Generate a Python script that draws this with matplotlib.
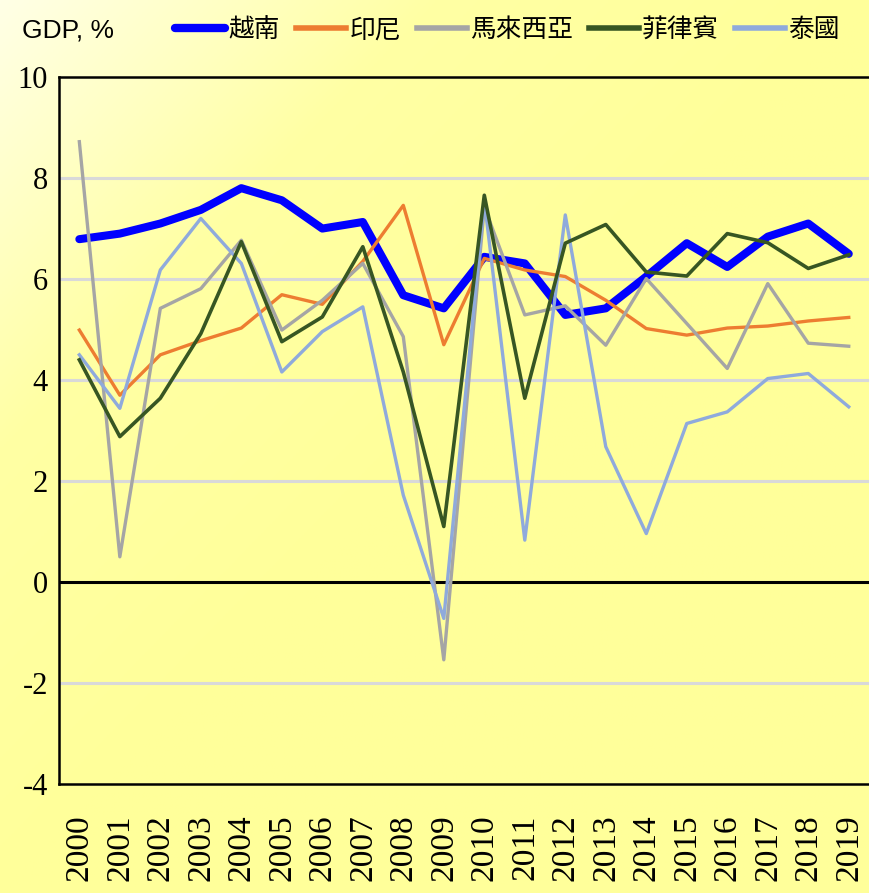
import numpy as np
import matplotlib
matplotlib.use("Agg")
import matplotlib.pyplot as plt
from matplotlib.colors import LinearSegmentedColormap

years = [str(y) for y in range(2000, 2020)]

vietnam = [6.79, 6.90, 7.10, 7.37, 7.80, 7.56, 7.00, 7.13, 5.68, 5.42,
           6.44, 6.31, 5.29, 5.42, 6.05, 6.71, 6.24, 6.84, 7.10, 6.50]
indonesia = [4.99, 3.70, 4.50, 4.78, 5.03, 5.69, 5.50, 6.35, 7.46, 4.70,
             6.41, 6.18, 6.05, 5.58, 5.02, 4.89, 5.03, 5.07, 5.17, 5.24]
malaysia = [8.72, 0.50, 5.42, 5.81, 6.77, 4.99, 5.58, 6.31, 4.86, -1.54,
            7.43, 5.29, 5.47, 4.69, 6.01, 5.12, 4.23, 5.91, 4.73, 4.67]
philippines = [4.40, 2.88, 3.64, 4.92, 6.74, 4.76, 5.25, 6.64, 4.16, 1.10,
               7.66, 3.64, 6.71, 7.08, 6.14, 6.06, 6.90, 6.72, 6.21, 6.48]
thailand = [4.50, 3.44, 6.18, 7.20, 6.31, 4.16, 4.96, 5.45, 1.72, -0.72,
            7.56, 0.83, 7.27, 2.68, 0.96, 3.14, 3.37, 4.03, 4.13, 3.47]

series_names = ['越南', '印尼', '馬來西亞', '菲律賓', '泰國']
y_ticks = [-4, -2, 0, 2, 4, 6, 8, 10]

fig = plt.figure(figsize=(8.69, 8.93), dpi=100)

# background gradient (light cream top-left -> yellow)
bg = fig.add_axes([0, 0, 1, 1], zorder=-10)
gx, gy = np.meshgrid(np.linspace(0, 1, 300), np.linspace(0, 1, 300))
grad = np.clip((gx + gy) / 1.0, 0, 1)
cmap = LinearSegmentedColormap.from_list('bg', ['#FFFFE6', '#FFFFA4', '#FFFF9A'])
bg.imshow(grad, cmap=cmap, aspect='auto', extent=[0, 1, 0, 1], origin='upper')
bg.axis('off')

ax = fig.add_axes([0.068, 0.122, 0.932, 0.7917])
ax.patch.set_alpha(0)

x = np.arange(len(years))
ax.plot(x, indonesia, color='#ED7D31', lw=2.4, label=series_names[1], zorder=3)
ax.plot(x, malaysia, color='#A5A5A5', lw=2.4, label=series_names[2], zorder=3)
ax.plot(x, philippines, color='#375623', lw=2.6, label=series_names[3], zorder=4)
ax.plot(x, thailand, color='#8FAADC', lw=2.4, label=series_names[4], zorder=3)
ax.plot(x, vietnam, color='#0000FF', lw=5.8, label=series_names[0],
        solid_capstyle='round', solid_joinstyle='round', zorder=2)

ax.set_xlim(-0.5, len(years) - 0.5)
ax.set_ylim(-4, 10)
ax.set_yticks(y_ticks)
ax.set_yticklabels([str(v) for v in y_ticks], family='Liberation Serif', fontsize=22)
ax.set_xticks(x)
ax.set_xticklabels(years, rotation=90, family='Liberation Serif', fontsize=24)
ax.tick_params(length=0, pad=8)
ax.tick_params(axis='x', pad=22)

for v in [-2, 2, 4, 6, 8]:
    ax.axhline(v, color='#D9D9D9', lw=2.2, zorder=1)
ax.axhline(0, color='black', lw=2.2, zorder=1)

for s in ['left', 'top', 'bottom']:
    ax.spines[s].set_linewidth(1.8)
ax.spines['right'].set_visible(False)

handles, labels = ax.get_legend_handles_labels()
order = [4, 0, 1, 2, 3]
leg = fig.legend([handles[i] for i in order], [labels[i] for i in order],
                 loc='center left', bbox_to_anchor=(0.19, 0.966), ncol=5,
                 frameon=False, handlelength=1.95, handletextpad=0.12,
                 columnspacing=0.62, borderaxespad=0,
                 prop={'family': ['Noto Sans CJK TC', 'DejaVu Sans'], 'size': 18.5})
for line in leg.get_lines():
    line.set_linewidth(4)
leg.get_lines()[0].set_linewidth(6)

fig.text(0.025, 0.966, 'GDP, %', family=['Liberation Sans', 'DejaVu Sans'],
         fontsize=19, va='center', ha='left')

fig.savefig('out.png', dpi=100)
